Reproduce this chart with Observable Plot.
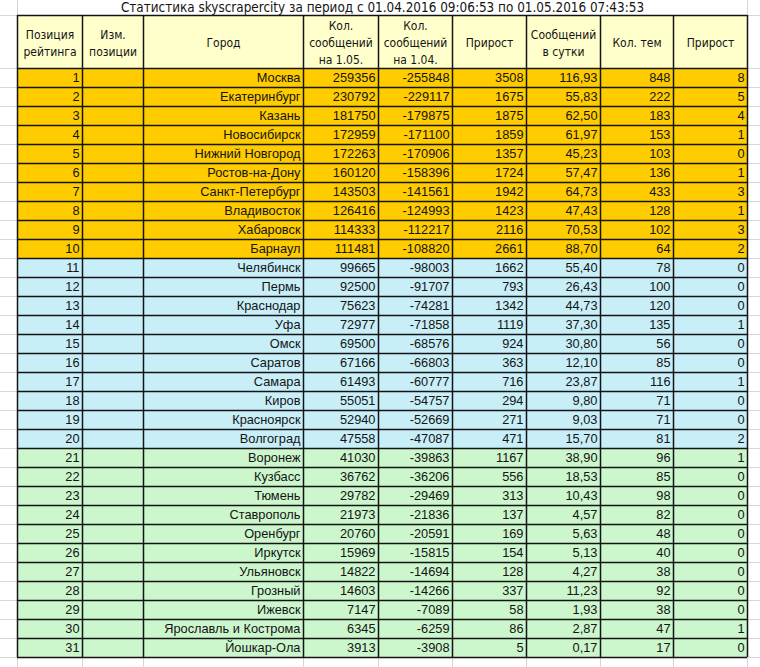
<!DOCTYPE html>
<html><head><meta charset="utf-8">
<script src="https://cdn.jsdelivr.net/npm/d3@7"></script>
<script src="https://cdn.jsdelivr.net/npm/@observablehq/plot@0.6"></script>
<style>body{margin:0;background:#fff;overflow:hidden;}</style>
</head><body><div id="chart"></div>
<script>
// ---------- data ----------
const title = "Статистика skyscrapercity за период с 01.04.2016 09:06:53 по 01.05.2016 07:43:53";
const headers = ["Позиция\nрейтинга", "Изм.\nпозиции", "Город", "Кол.\nсообщений\nна 1.05.", "Кол.\nсообщений\nна 1.04.", "Прирост", "Сообщений\nв сутки", "Кол. тем", "Прирост"];
const ranks = [1,2,3,4,5,6,7,8,9,10,11,12,13,14,15,16,17,18,19,20,21,22,23,24,25,26,27,28,29,30,31];
const positionChanges = ["","","","","","","","","","","","","","","","","","","","","","","","","","","","","","",""];
const cities = ["Москва","Екатеринбург","Казань","Новосибирск","Нижний Новгород","Ростов-на-Дону","Санкт-Петербург","Владивосток","Хабаровск","Барнаул","Челябинск","Пермь","Краснодар","Уфа","Омск","Саратов","Самара","Киров","Красноярск","Волгоград","Воронеж","Кузбасс","Тюмень","Ставрополь","Оренбург","Иркутск","Ульяновск","Грозный","Ижевск","Ярославль и Кострома","Йошкар-Ола"];
const postsMay = [259356,230792,181750,172959,172263,160120,143503,126416,114333,111481,99665,92500,75623,72977,69500,67166,61493,55051,52940,47558,41030,36762,29782,21973,20760,15969,14822,14603,7147,6345,3913];
const postsApr = [-255848,-229117,-179875,-171100,-170906,-158396,-141561,-124993,-112217,-108820,-98003,-91707,-74281,-71858,-68576,-66803,-60777,-54757,-52669,-47087,-39863,-36206,-29469,-21836,-20591,-15815,-14694,-14266,-7089,-6259,-3908];
const growth = [3508,1675,1875,1859,1357,1724,1942,1423,2116,2661,1662,793,1342,1119,924,363,716,294,271,471,1167,556,313,137,169,154,128,337,58,86,5];
const postsPerDay = [116.93,55.83,62.50,61.97,45.23,57.47,64.73,47.43,70.53,88.70,55.40,26.43,44.73,37.30,30.80,12.10,23.87,9.80,9.03,15.70,38.90,18.53,10.43,4.57,5.63,5.13,4.27,11.23,1.93,2.87,0.17];
const topics = [848,222,183,153,103,136,433,128,102,64,78,100,120,135,56,85,116,71,71,81,96,85,98,82,48,40,38,92,38,47,17];
const topicGrowth = [8,5,4,1,0,1,3,1,3,2,0,0,0,1,0,0,1,0,0,2,1,0,0,0,0,0,0,0,0,1,0];
const tierNames = ["1–10", "11–20", "21–31"];

// ---------- layout / style ----------
const colWidths = [65, 61, 160, 75, 74, 74, 74, 73, 74];
const bounds = [0, ...d3.cumsum(colWidths)];
const total = bounds[bounds.length - 1];
const headerRows = 2.79;
const tierColors = ["#FFCC00", "#C8EEF8", "#CCF6CC"];
const headerFill = "#FFFFCC";
const gridGray = "#d6d6d6";
const ink = "#141414";
const narrow = "'Liberation Sans Narrow','Arial Narrow','DejaVu Sans Condensed','Liberation Sans',Arial,sans-serif";
const regular = "'Liberation Sans',Arial,sans-serif";

const fmtDay = v => d3.format(".2f")(v).replace(".", ",");
const tierOf = r => tierNames[r <= 10 ? 0 : r <= 20 ? 1 : 2];

const rows = ranks.map((r, i) => ({
  i, tier: tierOf(r),
  cells: [String(r), positionChanges[i], cities[i], String(postsMay[i]), String(postsApr[i]),
          String(growth[i]), fmtDay(postsPerDay[i]), String(topics[i]), String(topicGrowth[i])]
}));
const cells = rows.flatMap(row => row.cells.map((t, c) => ({x: bounds[c + 1], y: row.i + 0.5, t})));
const headerCells = headers.map((h, c) => ({x: (bounds[c] + bounds[c + 1]) / 2, y: -headerRows / 2, t: h}));
const rowLines = [-headerRows, ...d3.range(0, ranks.length + 1)];

const chart = Plot.plot({
  width: 760, height: 667,
  marginLeft: 17, marginRight: 13, marginTop: 15, marginBottom: 10,
  x: {domain: [0, total], axis: null},
  y: {domain: [-headerRows, ranks.length], reverse: true, axis: null},
  color: {domain: tierNames, range: tierColors},
  style: {background: "#fff"},
  marks: [
    // spreadsheet gridlines outside the table
    Plot.ruleY(rowLines, {y: d => d, x1: -17, x2: total + 13, stroke: gridGray, strokeWidth: 1}),
    Plot.ruleX(bounds, {x: d => d, y1: ranks.length, y2: ranks.length + 1, stroke: gridGray, strokeWidth: 1}),
    Plot.ruleX([0, total], {x: d => d, y1: -headerRows - 1, y2: -headerRows, stroke: gridGray, strokeWidth: 1}),
    // backgrounds
    Plot.rect([0], {x1: 0, x2: total, y1: -headerRows, y2: 0, fill: headerFill}),
    Plot.rect(rows, {x1: 0, x2: total, y1: d => d.i, y2: d => d.i + 1, fill: "tier"}),
    // borders
    Plot.ruleY(rowLines, {y: d => d, x1: 0, x2: total, stroke: ink, strokeWidth: 1.5}),
    Plot.ruleX(bounds, {x: d => d, y1: -headerRows, y2: ranks.length, stroke: ink, strokeWidth: 1.5}),
    // title
    Plot.text([title], {frameAnchor: "top", dy: -7.5, text: d => d, fontSize: 13.4, fontFamily: narrow, fill: ink, lineAnchor: "middle"}),
    // header text
    Plot.text(headerCells, {x: "x", y: "y", text: "t", fontSize: 12, lineHeight: 1.42, fontFamily: narrow, fill: ink, textAnchor: "middle", lineAnchor: "middle"}),
    // body text
    Plot.text(cells, {x: "x", y: "y", text: "t", dx: -3, textAnchor: "end", fontSize: 12.8, fontFamily: regular, fill: ink, lineAnchor: "middle"})
  ]
});
document.getElementById("chart").appendChild(chart);
</script>
</body></html>
